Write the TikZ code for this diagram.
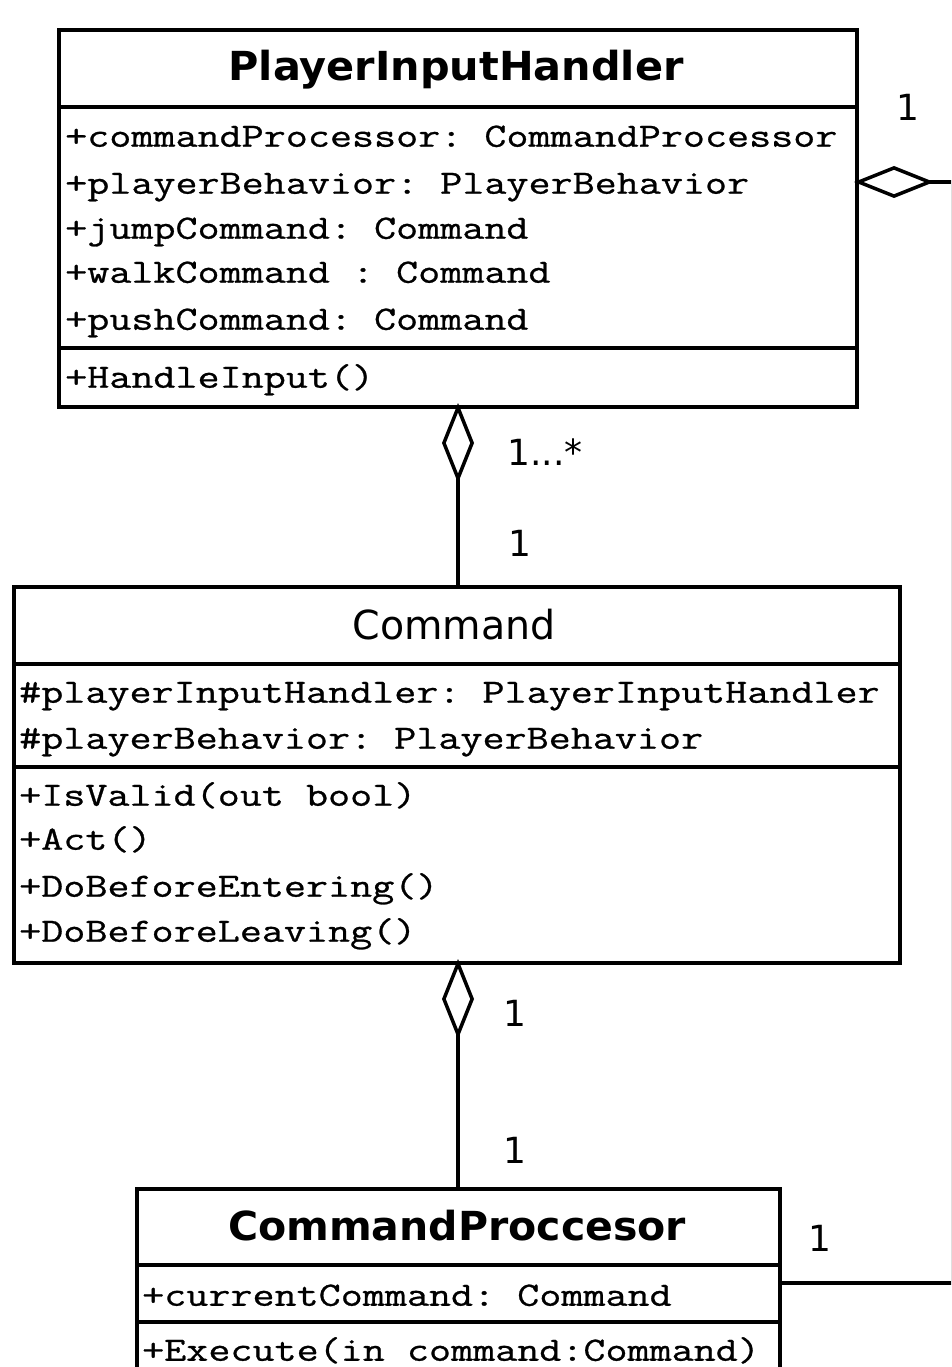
\documentclass[tikz,border=0pt]{standalone}
\usepackage{fontspec}
\setmainfont{DejaVu Sans}
\setmonofont{Latin Modern Mono}[FakeStretch=1.26, FakeBold=0.8]
\usetikzlibrary{arrows.meta}

\tikzset{
  classbox/.style={draw, line width=4pt, inner sep=0pt, anchor=north west},
  sepline/.style={line width=4pt},
  classname/.style={inner sep=0pt, font=\fontsize{40}{44}\selectfont},
  member/.style={anchor=mid west, inner sep=0pt, font=\fontsize{34}{40}\selectfont\ttfamily},
  mult/.style={inner sep=0pt, font=\fontsize{36}{40}\selectfont},
  assoc/.style={line width=3.5pt},
  aggr/.style={assoc, {Diamond[open, length=80pt, width=32pt]}-},
}

\begin{document}
\begin{tikzpicture}[x=1pt, y=-1pt]
  \useasboundingbox (0,0) rectangle (951,1367);
  \clip (0,0) rectangle (951,1367);

  % PlayerInputHandler
  \node[classbox, minimum width=798pt, minimum height=377pt] (pih) at (57,28) {};
  \draw[sepline] (pih.west |- 0,107) -- (pih.east |- 0,107);
  \draw[sepline] (pih.west |- 0,348) -- (pih.east |- 0,348);
  \node[classname] (pihname) at (456,70) {\resizebox{455pt}{\height}{\bfseries PlayerInputHandler}};
  \node[member] (pa1) at (65,144) {+commandProcessor: CommandProcessor};
  \node[member] (pa2) at (65,191) {+playerBehavior: PlayerBehavior};
  \node[member] (pa3) at (65,236) {+jumpCommand: Command};
  \node[member] (pa4) at (65,280) {+walkCommand : Command};
  \node[member] (pa5) at (65,327) {+pushCommand: Command};
  \node[member] (pm1) at (65,385) {+HandleInput()};

  % Command
  \node[classbox, minimum width=886pt, minimum height=376pt] (cmd) at (12,585) {};
  \draw[sepline] (cmd.west |- 0,664) -- (cmd.east |- 0,664);
  \draw[sepline] (cmd.west |- 0,767) -- (cmd.east |- 0,767);
  \node[classname] (cmdname) at (454,625) {\resizebox{203pt}{\height}{Command}};
  \node[member] (ca1) at (19,700) {\#playerInputHandler: PlayerInputHandler};
  \node[member] (ca2) at (19,746) {\#playerBehavior: PlayerBehavior};
  \node[member] (cm1) at (19,803) {+IsValid(out bool)};
  \node[member] (cm2) at (19,847) {+Act()};
  \node[member] (cm3) at (19,894) {+DoBeforeEntering()};
  \node[member] (cm4) at (19,939) {+DoBeforeLeaving()};

  % CommandProccesor
  \node[classbox, minimum width=643pt, minimum height=240pt] (cp) at (135,1187) {};
  \draw[sepline] (cp.west |- 0,1265) -- (cp.east |- 0,1265);
  \draw[sepline] (cp.west |- 0,1322) -- (cp.east |- 0,1322);
  \node[classname] (cpname) at (457,1226) {\resizebox{458pt}{\height}{\bfseries CommandProccesor}};
  \node[member] (pr1) at (142,1303) {+currentCommand: Command};
  \node[member] (pr2) at (142,1358) {+Execute(in command:Command)};

  % Associations
  \coordinate (r1) at (953,182);
  \coordinate (r2) at (953,1283);
  \draw[aggr] ([yshift=6pt]pih.south) -- (pih.south |- cmd.north);
  \draw[aggr] ([yshift=6pt]cmd.south -| pih.south) -- (pih.south |- cp.north);
  \draw[aggr] ([xshift=-5pt]pih.east |- r1) -- (r1) -- (r2) -- (r2 -| cp.east);

  % Multiplicities
  \node[mult] (m1) at (545,452) {1...*};
  \node[mult] (m2) at (520,543) {1};
  \node[mult] (m3) at (515,1013) {1};
  \node[mult] (m4) at (515,1150) {1};
  \node[mult] (m5) at (908,107) {1};
  \node[mult] (m6) at (820,1238) {1};
\end{tikzpicture}
\end{document}
